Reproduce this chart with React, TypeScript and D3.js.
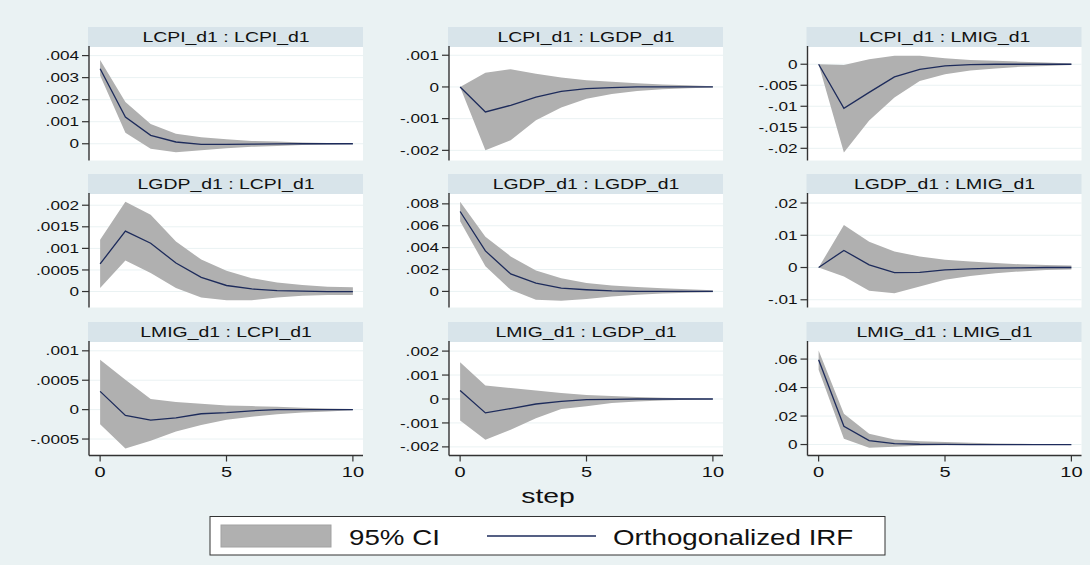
import React, { useEffect, useRef } from "react";
import * as d3 from "d3";

const steps = [0, 1, 2, 3, 4, 5, 6, 7, 8, 9, 10];

const titles = [
  "LCPI_d1 : LCPI_d1", "LCPI_d1 : LGDP_d1", "LCPI_d1 : LMIG_d1",
  "LGDP_d1 : LCPI_d1", "LGDP_d1 : LGDP_d1", "LGDP_d1 : LMIG_d1",
  "LMIG_d1 : LCPI_d1", "LMIG_d1 : LGDP_d1", "LMIG_d1 : LMIG_d1",
];

// orthogonalized IRF and 95% CI bands
const irfCpiCpi = [0.0034, 0.00121, 0.00038, 0.00008, -0.00003, -0.00003, -0.00002, -0.00001, 0, 0, 0];
const hiCpiCpi = [0.0038, 0.0019, 0.0009, 0.00045, 0.0003, 0.0002, 0.00013, 0.0001, 0.00006, 0.00003, 0.00001];
const loCpiCpi = [0.0031, 0.0005, -0.00023, -0.00038, -0.0003, -0.0002, -0.00014, -0.0001, -0.00006, -0.00003, -0.00001];

const irfCpiGdp = [0, -0.00079, -0.00058, -0.00032, -0.00014, -0.00005, -0.00002, 0, 0, 0, 0];
const hiCpiGdp = [0, 0.00045, 0.00056, 0.00042, 0.0003, 0.00021, 0.00016, 0.00012, 0.00008, 0.00005, 0.00002];
const loCpiGdp = [0, -0.002, -0.00168, -0.00105, -0.00065, -0.00037, -0.00022, -0.00013, -0.00007, -0.00004, -0.00002];

const irfCpiMig = [0, -0.0105, -0.0067, -0.003, -0.0012, -0.0004, -0.0001, 0, 0, 0, 0];
const hiCpiMig = [0, -0.0002, 0.0012, 0.002, 0.002, 0.0014, 0.001, 0.0008, 0.0006, 0.0004, 0.0002];
const loCpiMig = [0, -0.021, -0.0134, -0.0079, -0.004, -0.0024, -0.0015, -0.001, -0.0006, -0.0004, -0.0002];

const irfGdpCpi = [0.00064, 0.0014, 0.00112, 0.00066, 0.00033, 0.00014, 0.00006, 0.00002, 0.00001, 0, 0];
const hiGdpCpi = [0.0012, 0.00208, 0.00178, 0.00116, 0.00074, 0.00048, 0.00031, 0.00021, 0.00015, 0.00011, 0.0001];
const loGdpCpi = [0.00008, 0.00072, 0.00043, 0.00008, -0.00014, -0.0002, -0.0002, -0.00014, -0.0001, -0.00008, -0.00008];

const irfGdpGdp = [0.0073, 0.0037, 0.0016, 0.00076, 0.0003, 0.00015, 0.00005, 0.00001, 0, 0, 0];
const hiGdpGdp = [0.0082, 0.005, 0.0032, 0.0019, 0.0012, 0.00076, 0.00055, 0.0004, 0.0003, 0.0002, 0.0001];
const loGdpGdp = [0.0064, 0.0023, 0.00015, -0.00076, -0.00085, -0.0007, -0.00046, -0.0003, -0.0002, -0.00012, -0.00008];

const irfGdpMig = [0, 0.0053, 0.0008, -0.0016, -0.0015, -0.0007, -0.0004, -0.0002, -0.0001, 0, 0];
const hiGdpMig = [0, 0.0132, 0.008, 0.005, 0.0034, 0.0024, 0.0019, 0.0014, 0.001, 0.0008, 0.0006];
const loGdpMig = [0, -0.0028, -0.0072, -0.008, -0.0059, -0.0038, -0.0026, -0.0018, -0.0012, -0.0008, -0.0006];

const irfMigCpi = [0.00031, -0.0001, -0.00018, -0.00014, -0.00007, -0.00005, -0.00002, 0, 0, 0, 0];
const hiMigCpi = [0.00085, 0.00051, 0.00018, 0.00013, 0.0001, 0.00007, 0.00006, 0.00005, 0.00003, 0.00002, 0.00001];
const loMigCpi = [-0.00025, -0.00066, -0.00053, -0.00037, -0.00026, -0.00017, -0.00012, -0.00008, -0.00005, -0.00003, -0.00001];

const irfMigGdp = [0.00035, -0.00058, -0.0004, -0.00021, -0.0001, -0.00003, -0.00002, 0, 0, 0, 0];
const hiMigGdp = [0.00153, 0.00056, 0.00046, 0.00035, 0.00025, 0.00017, 0.00012, 0.00008, 0.00005, 0.00003, 0.00001];
const loMigGdp = [-0.0009, -0.0017, -0.00128, -0.0008, -0.00042, -0.0003, -0.00017, -0.0001, -0.00006, -0.00003, -0.00001];

const irfMigMig = [0.0596, 0.0128, 0.0028, 0.0007, 0.0002, 0.0001, 0, 0, 0, 0, 0];
const hiMigMig = [0.066, 0.0217, 0.0075, 0.0035, 0.0023, 0.0018, 0.0012, 0.0008, 0.0005, 0.0002, 0.0001];
const loMigMig = [0.0526, 0.004, -0.0023, -0.0016, -0.0008, -0.0005, -0.0003, -0.0002, -0.0001, 0, 0];

const irfs = [irfCpiCpi, irfCpiGdp, irfCpiMig, irfGdpCpi, irfGdpGdp, irfGdpMig, irfMigCpi, irfMigGdp, irfMigMig];
const his = [hiCpiCpi, hiCpiGdp, hiCpiMig, hiGdpCpi, hiGdpGdp, hiGdpMig, hiMigCpi, hiMigGdp, hiMigMig];
const los = [loCpiCpi, loCpiGdp, loCpiMig, loGdpCpi, loGdpGdp, loGdpMig, loMigCpi, loMigGdp, loMigMig];

// y range shown in each plot region
const yDomains: [number, number][] = [
  [-0.00076, 0.00439], [-0.00232, 0.00126], [-0.0229, 0.0041],
  [-0.00037, 0.00226], [-0.00147, 0.0089], [-0.0124, 0.0228],
  [-0.00078, 0.00115], [-0.00236, 0.00238], [-0.0077, 0.072],
];

const yTicks = [
  [0, 0.001, 0.002, 0.003, 0.004],
  [-0.002, -0.001, 0, 0.001],
  [-0.02, -0.015, -0.01, -0.005, 0],
  [0, 0.0005, 0.001, 0.0015, 0.002],
  [0, 0.002, 0.004, 0.006, 0.008],
  [-0.01, 0, 0.01, 0.02],
  [-0.0005, 0, 0.0005, 0.001],
  [-0.002, -0.001, 0, 0.001, 0.002],
  [0, 0.02, 0.04, 0.06],
];

const xTicks = [0, 5, 10];
const legendLabels = ["95% CI", "Orthogonalized IRF"];

// stata style: ".004", "-.005", "0"
const stataFmt = (v: number) => {
  if (Math.abs(v) < 1e-12) return "0";
  const s = String(+v.toPrecision(6));
  return s.replace(/^(-?)0\./, "$1.");
};

const FONT = "'Liberation Sans', Arial, sans-serif";
const BG = "#eaf2f3";
const STRIP = "#d8e4ea";
const BAND = "#b0b0b0";
const NAVY = "#1d2b5b";

const App = () => {
  const ref = useRef<SVGSVGElement | null>(null);

  useEffect(() => {
    const svg = d3.select(ref.current!);
    svg.selectAll("*").remove();

    const W = 1090, H = 565;
    svg.append("rect").attr("width", W).attr("height", H).attr("fill", BG);

    const colLeft = [89, 449, 807.5];
    const rowTop = [47, 194, 342];
    const plotW = 274, plotH = 113.5, stripH = 20;

    const stretched = (g: any, x: number, y: number, sx: number, txt: string, size: number, anchor: string) =>
      g.append("text")
        .attr("transform", `translate(${x},${y}) scale(${sx},1)`)
        .attr("text-anchor", anchor)
        .attr("font-family", FONT)
        .attr("font-size", size)
        .attr("fill", "#111")
        .text(txt);

    titles.forEach((title, i) => {
      const c = i % 3, r = Math.floor(i / 3);
      const left = colLeft[c], top = rowTop[r];
      const g = svg.append("g");

      const x = d3.scaleLinear().domain([-0.44, 10.4]).range([left, left + plotW]);
      const y = d3.scaleLinear().domain(yDomains[i]).range([top + plotH, top]);

      // strip header
      g.append("rect").attr("x", left - 1).attr("y", top - stripH).attr("width", plotW + 1).attr("height", stripH).attr("fill", STRIP);
      stretched(g, left + plotW / 2, top - 5.5, 1.34, title, 14.5, "middle");

      g.append("rect").attr("x", left).attr("y", top).attr("width", plotW).attr("height", plotH).attr("fill", "#fff");

      yTicks[i].forEach((t) => {
        g.append("line").attr("x1", left).attr("x2", left + plotW).attr("y1", y(t)).attr("y2", y(t))
          .attr("stroke", BG).attr("stroke-width", 1);
      });

      const pts = steps.map((s, k) => ({ s, irf: irfs[i][k], lo: los[i][k], hi: his[i][k] }));

      g.append("path").datum(pts).attr("fill", BAND).attr("stroke", "none")
        .attr("d", d3.area<any>().x((d) => x(d.s)).y0((d) => y(d.lo)).y1((d) => y(d.hi)));

      g.append("path").datum(pts).attr("fill", "none").attr("stroke", NAVY).attr("stroke-width", 1.3)
        .attr("d", d3.line<any>().x((d) => x(d.s)).y((d) => y(d.irf)));

      // y axis
      g.append("line").attr("x1", left).attr("x2", left).attr("y1", top - 1).attr("y2", top + plotH)
        .attr("stroke", "#333").attr("stroke-width", 1.4);
      yTicks[i].forEach((t) => {
        g.append("line").attr("x1", left - 7).attr("x2", left).attr("y1", y(t)).attr("y2", y(t))
          .attr("stroke", "#333").attr("stroke-width", 1.2);
        stretched(g, left - 10, y(t) + 4.6, 1.3, stataFmt(t), 13.2, "end");
      });

      if (r === 2) {
        const yb = top + plotH;
        g.append("line").attr("x1", left).attr("x2", left + plotW).attr("y1", yb).attr("y2", yb)
          .attr("stroke", "#333").attr("stroke-width", 1.4);
        xTicks.forEach((t) => {
          g.append("line").attr("x1", x(t)).attr("x2", x(t)).attr("y1", yb).attr("y2", yb + 6)
            .attr("stroke", "#333").attr("stroke-width", 1.2);
          stretched(g, x(t), yb + 21.5, 1.38, String(t), 14.5, "middle");
        });
      }
    });

    stretched(svg, 548, 503, 1.35, "step", 21, "middle");

    // legend
    const lg = svg.append("g");
    lg.append("rect").attr("x", 210).attr("y", 516.5).attr("width", 675).attr("height", 38.5)
      .attr("fill", "#fff").attr("stroke", "#333").attr("stroke-width", 1);
    lg.append("rect").attr("x", 221).attr("y", 525).attr("width", 110).attr("height", 22)
      .attr("fill", BAND).attr("stroke", "#a2a2a2").attr("stroke-width", 1);
    stretched(lg, 349, 545, 1.26, legendLabels[0], 22, "start");
    lg.append("line").attr("x1", 487).attr("x2", 596).attr("y1", 536).attr("y2", 536)
      .attr("stroke", NAVY).attr("stroke-width", 1.5);
    stretched(lg, 613, 545, 1.26, legendLabels[1], 22, "start");
  }, []);

  return (
    <svg ref={ref} width={1090} height={565} style={{ position: "absolute", left: 0, top: 0 }} />
  );
};

export default App;
